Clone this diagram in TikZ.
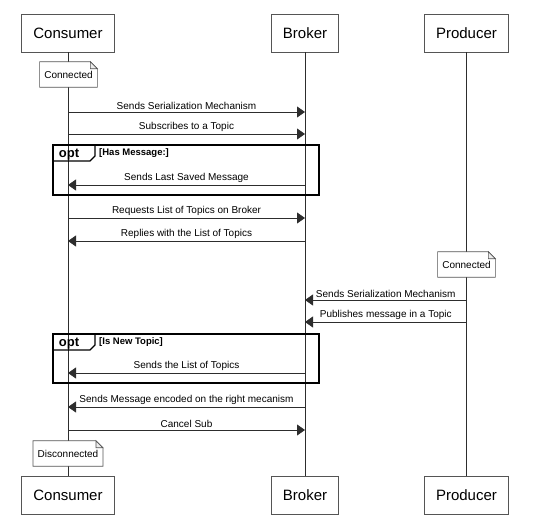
\documentclass[tikz,border=0pt]{standalone}
\usepackage{fontspec}
\setmainfont{Liberation Sans}
\usetikzlibrary{arrows.meta, positioning}
\usepackage{xcolor}
\definecolor{linecol}{RGB}{45,45,45}
\definecolor{boxbd}{RGB}{85,85,85}
\definecolor{foldcol}{RGB}{236,236,236}

\begin{document}
\begin{tikzpicture}[
    x=1pt, y=-1pt,
    head/.style   = {rectangle, draw=boxbd, line width=0.9pt, minimum height=38pt,
                     inner xsep=11.5pt, font=\fontsize{15}{18}\selectfont},
    life/.style   = {draw=linecol, line width=0.8pt},
    msg/.style    = {-{Triangle[length=8pt,width=11pt]}, draw=linecol, line width=0.8pt},
    lbl/.style    = {midway, above, inner sep=2.5pt, font=\fontsize{10}{12}\selectfont},
    note/.style   = {rectangle, fill=white, minimum height=25pt, inner xsep=4.5pt,
                     font=\fontsize{10}{12}\selectfont},
    notebd/.style = {draw=boxbd, line width=0.7pt},
    frame/.style  = {draw=black, line width=1.3pt},
    optlbl/.style = {font=\bfseries\fontsize{13}{15}\selectfont, inner sep=0pt},
    guard/.style  = {anchor=west, font=\bfseries\fontsize{9.5}{11}\selectfont, inner sep=0pt},
]
\useasboundingbox (0,0) rectangle (550,532);

% ── Lifeline heads ──────────────────────────────────────────────
\node[head] (cons)  at (68,33)    {Consumer};
\node[head] (brok)  at (305,33)   {Broker};
\node[head] (prod)  at (466.5,33) {Producer};

\node[head] (consB) at (68,495)    {Consumer};
\node[head] (brokB) at (305,495)   {Broker};
\node[head] (prodB) at (466.5,495) {Producer};

% ── Lifelines ───────────────────────────────────────────────────
\draw[life] (cons.south) -- (consB.north);
\draw[life] (brok.south) -- (brokB.north);
\draw[life] (prod.south) -- (prodB.north);

% ── State notes ─────────────────────────────────────────────────
\node[note] (nc1) at (68.5,74.5)  {Connected};
\node[note] (np1) at (466.5,264.5) {Connected};
\node[note] (nc2) at (68,453.5)   {Disconnected};

\foreach \n in {nc1, np1, nc2} {
  \draw[notebd] (\n.north west) -- ([xshift=-7pt]\n.north east)
      -- ([yshift=-7pt]\n.north east) -- (\n.south east) -- (\n.south west) -- cycle;
  \filldraw[notebd, fill=foldcol] ([xshift=-7pt]\n.north east)
      -- ([xshift=-7pt,yshift=-7pt]\n.north east) -- ([yshift=-7pt]\n.north east) -- cycle;
}

% ── Messages ────────────────────────────────────────────────────
\draw[msg] (cons |- 0,112) -- (brok |- 0,112) node[lbl] (l1) {Sends Serialization Mechanism};
\draw[msg] (cons |- 0,134) -- (brok |- 0,134) node[lbl] (l2) {Subscribes to a Topic};
\draw[msg] (brok |- 0,185) -- (cons |- 0,185) node[lbl] (l3) {Sends Last Saved Message};
\draw[msg] (cons |- 0,218) -- (brok |- 0,218) node[lbl] (l4) {Requests List of Topics on Broker};
\draw[msg] (brok |- 0,241) -- (cons |- 0,241) node[lbl] (l5) {Replies with the List of Topics};
\draw[msg] (prod |- 0,300) -- (brok |- 0,300) node[lbl] (l6) {Sends Serialization Mechanism};
\draw[msg] (prod |- 0,322) -- (brok |- 0,322) node[lbl] (l7) {Publishes message in a Topic};
\draw[msg] (brok |- 0,373) -- (cons |- 0,373) node[lbl] (l8) {Sends the List of Topics};
\draw[msg] (brok |- 0,407) -- (cons |- 0,407) node[lbl] (l9) {Sends Message encoded on the right mecanism};
\draw[msg] (cons |- 0,430) -- (brok |- 0,430) node[lbl] (l10) {Cancel Sub};

% ── opt fragments ───────────────────────────────────────────────
\draw[frame] (53,145) rectangle (319,195);
\draw[frame] (53,161) -- (90,161) -- (95,156) -- (95,145);
\node[optlbl] (opt1) at (69,154.5) {opt};
\node[guard] (g1) at (99,153.5) {[Has Message:]};

\draw[frame] (53,334) rectangle (319,383);
\draw[frame] (53,350) -- (90,350) -- (95,345) -- (95,334);
\node[optlbl] (opt2) at (69,343.5) {opt};
\node[guard] (g2) at (99,342.5) {[Is New Topic]};

\end{tikzpicture}
\end{document}
